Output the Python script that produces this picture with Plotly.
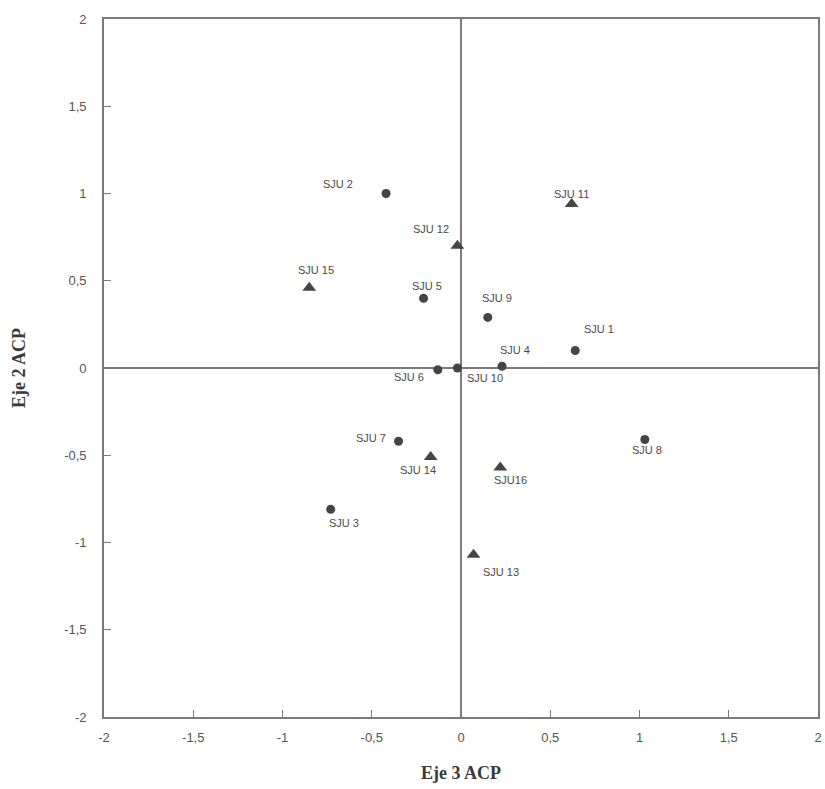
import plotly.graph_objects as go

# Sample scores on the PCA axes (Eje 3 on x, Eje 2 on y)
circle_names = ["SJU 1", "SJU 2", "SJU 3", "SJU 4", "SJU 5", "SJU 6", "SJU 7", "SJU 8", "SJU 9", "SJU 10"]
circle_x = [0.64, -0.42, -0.73, 0.23, -0.21, -0.13, -0.35, 1.03, 0.15, -0.02]
circle_y = [0.10, 1.00, -0.81, 0.01, 0.40, -0.01, -0.42, -0.41, 0.29, 0.00]

triangle_names = ["SJU 11", "SJU 12", "SJU 13", "SJU 14", "SJU 15", "SJU16"]
triangle_x = [0.62, -0.02, 0.07, -0.17, -0.85, 0.22]
triangle_y = [0.94, 0.70, -1.07, -0.51, 0.46, -0.57]

tick_vals = [-2, -1.5, -1, -0.5, 0, 0.5, 1, 1.5, 2]
tick_text = ["-2", "-1,5", "-1", "-0,5", "0", "0,5", "1", "1,5", "2"]

# label offsets in pixels (dx, dy) relative to each marker
circle_shift = [(24, 22), (-48, 10), (13, -14), (13, 16), (3, 12), (-29, -7), (-28, 3), (2, -10), (9, 19), (28, -10)]
triangle_shift = [(0, 10), (-26, 17), (27, -17), (-13, -13), (7, 18), (10, -13)]

grey_line = "#7a7a7a"
mark_col = "#454545"
text_col = "#4a4a4a"

fig = go.Figure()
fig.add_trace(go.Scatter(
    x=circle_x, y=circle_y, mode="markers", name="circle",
    marker=dict(symbol="circle", size=9, color=mark_col),
    hoverinfo="text", text=circle_names,
))
fig.add_trace(go.Scatter(
    x=triangle_x, y=triangle_y, mode="markers", name="triangle",
    marker=dict(symbol="triangle-up", size=12, color=mark_col),
    hoverinfo="text", text=triangle_names,
))

annotations = []
for names, xs, ys, shifts in [
    (circle_names, circle_x, circle_y, circle_shift),
    (triangle_names, triangle_x, triangle_y, triangle_shift),
]:
    for n, x, y, (dx, dy) in zip(names, xs, ys, shifts):
        annotations.append(dict(
            x=x, y=y, text=n, showarrow=False, xshift=dx, yshift=dy,
            font=dict(family="Liberation Sans, Arial", size=11, color=text_col),
        ))

axis_common = dict(
    range=[-2, 2], tickvals=tick_vals, ticktext=tick_text,
    ticks="inside", ticklen=7, tickwidth=1.3, tickcolor=grey_line,
    showline=True, linecolor=grey_line, linewidth=1.6, mirror=True,
    showgrid=False, zeroline=True, zerolinecolor=grey_line, zerolinewidth=1.6,
    tickfont=dict(family="Liberation Sans, Arial", size=13, color="#555555"),
)

fig.update_layout(
    width=825, height=789,
    margin=dict(l=104, r=3, t=19, b=72),
    paper_bgcolor="white", plot_bgcolor="white",
    showlegend=False,
    annotations=annotations,
    xaxis=dict(**axis_common, ticklabelstandoff=8,
               title=dict(text="<b>Eje 3 ACP</b>", standoff=22,
                          font=dict(family="Liberation Serif, Times New Roman", size=18, color="#3a3a3a"))),
    yaxis=dict(**axis_common, ticklabelstandoff=13,
               title=dict(text="<b>Eje 2 ACP</b>", standoff=34,
                          font=dict(family="Liberation Serif, Times New Roman", size=18, color="#3a3a3a"))),
)

fig.write_html("out.html")
